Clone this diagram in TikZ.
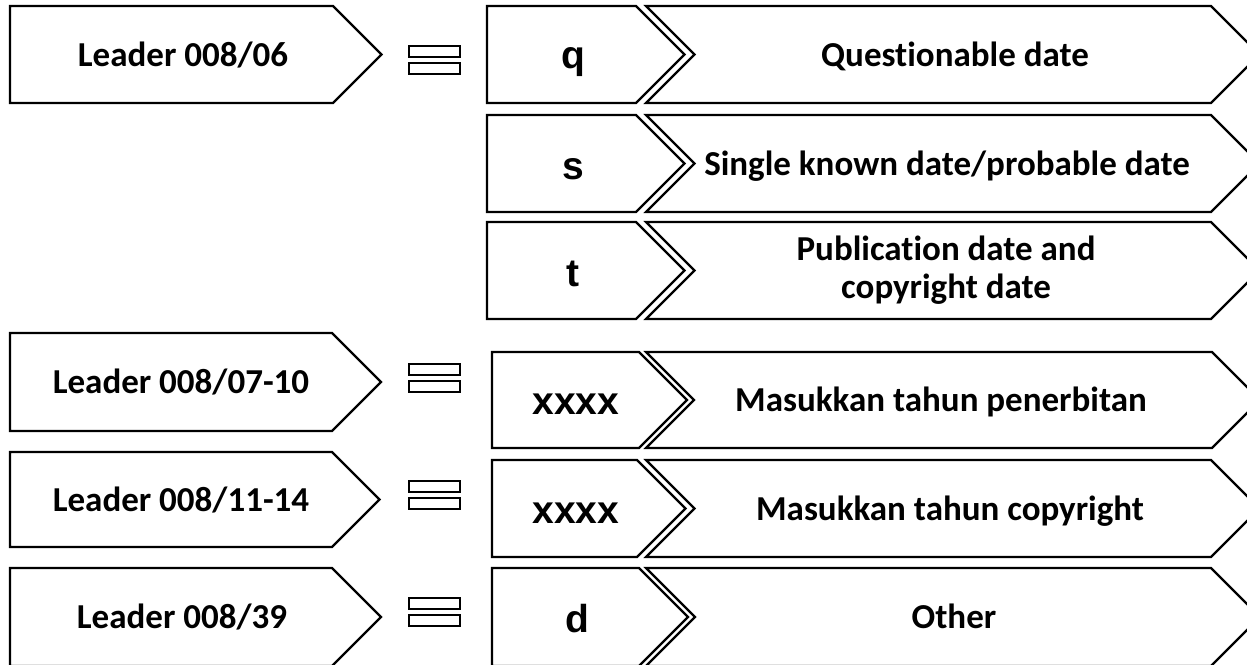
\documentclass[tikz,border=0pt]{standalone}
\usepackage{fontspec}
\setmainfont{Carlito}[Ligatures=NoCommon]
\newfontfamily\codefont{Liberation Sans}

\tikzset{
  tag/.style={draw, line width=1.1pt, fill=white, line join=miter},
  bar/.style={draw, line width=1pt},
  leadertext/.style={anchor=base, font=\fontsize{17.5}{19}\selectfont\bfseries},
  codetext/.style={anchor=base, font=\fontsize{19.5}{23}\selectfont\codefont\bfseries},
}
% left, right, top, bottom
\newcommand{\arrowtag}[4]{%
  \draw[tag] (#1,#3) -- (#2,#3) -- ({#2+(#4-#3)/2},{(#3+#4)/2}) -- (#2,#4) -- (#1,#4) -- cycle;}
\newcommand{\notchtag}[4]{%
  \draw[tag] (#1,#3) -- (#2,#3) -- ({#2+(#4-#3)/2},{(#3+#4)/2}) -- (#2,#4) -- (#1,#4)
    -- ({#1+(#4-#3)/2},{(#3+#4)/2}) -- cycle;}
% middle height of the two bars
\newcommand{\eqbars}[1]{%
  \draw[bar] (409,#1-14) rectangle (460,#1-3);
  \draw[bar] (409,#1+3) rectangle (460,#1+14);}

\begin{document}
\begin{tikzpicture}[x=0.5pt,y=-0.5pt]
        \useasboundingbox (0,0) rectangle (1247,664);
        \fill[white] (0,0) rectangle (1247,664);
        \clip (0,0) rectangle (1247,664);

        \arrowtag{10}{333}{6}{103}
        \arrowtag{10}{332}{333}{431}
        \arrowtag{10}{332}{452}{547}
        \arrowtag{10}{332}{568}{666}
        \eqbars{59.5}
        \eqbars{377.5}
        \eqbars{495}
        \eqbars{612}

        \notchtag{646}{1211}{6}{103}
        \notchtag{646}{1211}{115}{212}
        \notchtag{646}{1211}{222}{319}
        \notchtag{646}{1212}{352}{448}
        \notchtag{646}{1211}{460}{557}
        \notchtag{646}{1211}{568}{666}
        \arrowtag{487}{636}{6}{103}
        \arrowtag{487}{636}{115}{212}
        \arrowtag{487}{636}{222}{319}
        \arrowtag{492}{639}{352}{448}
        \arrowtag{492}{637}{460}{557}
        \arrowtag{492}{639}{568}{666}

        \node[leadertext] (lead06) at (183,66) {Leader 008/06};
        \node[leadertext] (lead07) at (181,393.5) {Leader 008/07-10};
        \node[leadertext] (lead11) at (181,511) {Leader 008/11-14};
        \node[leadertext] (lead39) at (182,628) {Leader 008/39};

        \node[codetext] (codeq) at (573,68) {q};
        \node[codetext] (codes) at (573,179) {s};
        \node[codetext] (codet) at (573,286) {t};
        \node[codetext] (codex1) at (576,414) {xxxx};
        \node[codetext] (codex2) at (576,523) {xxxx};
        \node[codetext] (coded) at (577,632) {d};

        \node[leadertext] (descq) at (955,66) {Questionable date};
        \node[leadertext] (descs) at (947,175) {Single known date/probable date};
        \node[leadertext, anchor=center, align=center] (desct) at (946,270) {Publication date and\\copyright date};
        \node[leadertext] (descx1) at (941,411.5) {Masukkan tahun penerbitan};
        \node[leadertext] (descx2) at (950,520) {Masukkan tahun copyright};
        \node[leadertext] (descd) at (954,628.5) {Other};
    \end{tikzpicture}
\end{document}
